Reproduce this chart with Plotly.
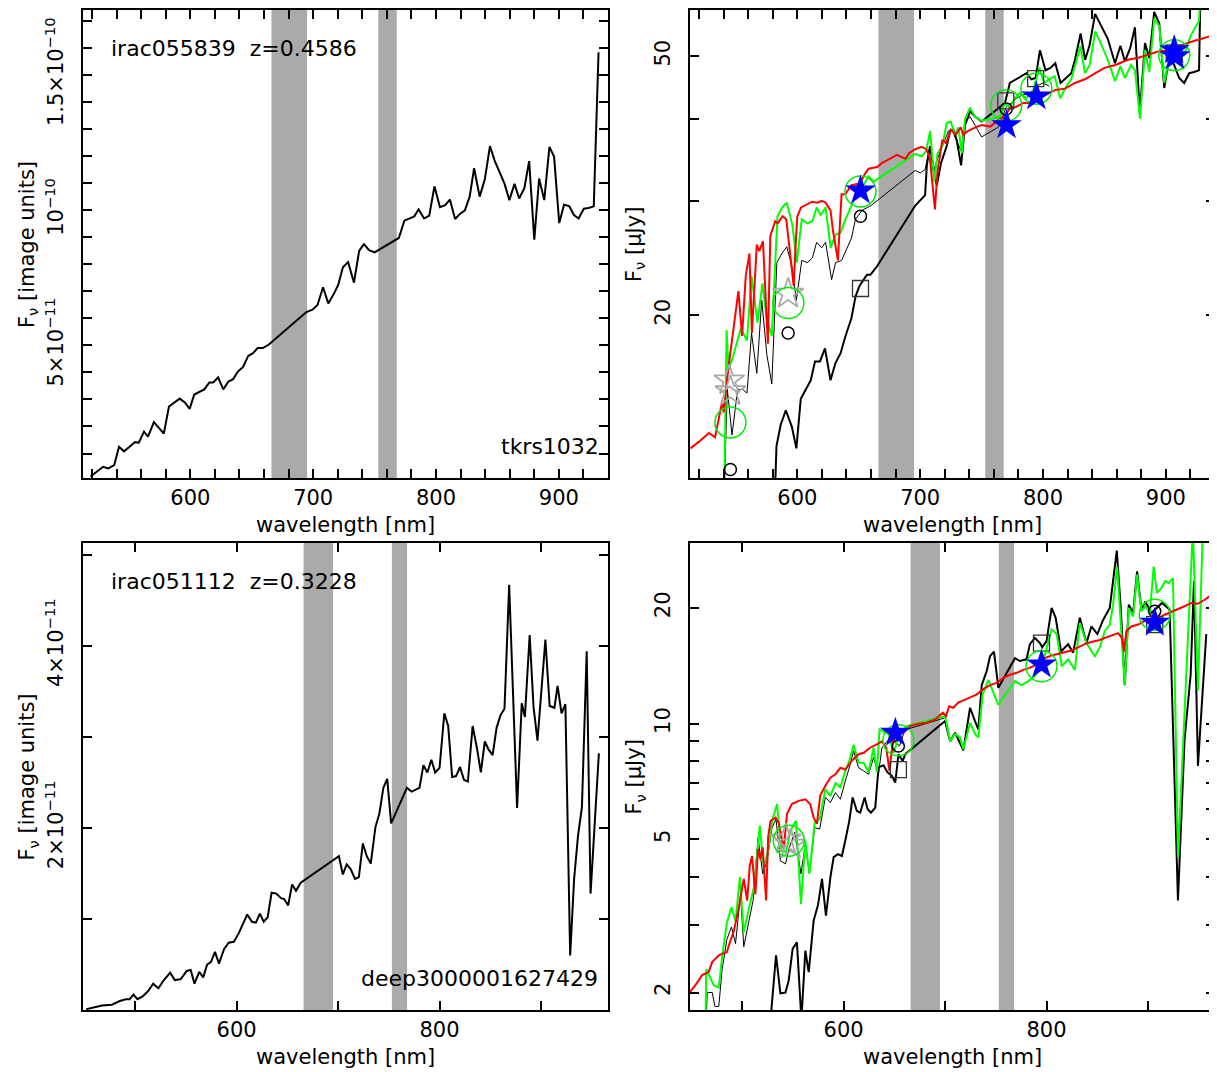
import plotly.graph_objects as go

# ---------------- data ----------------
# top-left: irac055839 spectrum, flux in units of 1e-11 (image units)
tl_wl = [518.7, 523.5, 529, 533.2, 538, 541.9, 546, 551, 554.8, 558,
         562.3, 565.5, 570.3, 574.2, 578.4, 582.6, 586.5, 591.3, 595.5, 599.4,
         603.2, 607.4, 611.3, 615.5, 618.7, 622.6, 626.8, 631, 634.8, 638.7,
         642.9, 647.1, 651, 654.8, 659, 663.9, 694.5, 699.4, 703.5, 708,
         712.3, 717.1, 720.3, 724.2, 728.4, 733.2, 737.4, 741.3, 745.5, 750,
         769.7, 774.2, 778.4, 782.3, 785.8, 790.3, 794.5, 798.7, 803.2, 807.4,
         811.3, 815.5, 819.4, 823.5, 827.4, 831, 835.5, 839.7, 843.9, 847.7,
         851.9, 855.8, 859.7, 863.9, 867.7, 871.9, 875.8, 880, 883.9, 888.1,
         892.3, 896.1, 900.3, 904.2, 908.4, 912.3, 916.1, 920.3, 924.2, 928.4,
         932.3]
tl_flux = [0.15, 0.32, 0.51, 0.45, 0.57, 1.25, 1.08, 1.27, 1.42, 1.4,
           1.81, 1.62, 2.16, 1.96, 1.74, 2.74, 2.86, 3.03, 2.89, 2.65,
           3.18, 3.27, 3.37, 3.63, 3.63, 3.82, 3.37, 3.66, 3.75, 4.03,
           4.2, 4.61, 4.71, 4.9, 4.9, 5.03, 6.23, 6.32, 6.49, 7.15,
           6.55, 6.93, 7.23, 7.89, 8.08, 7.32, 8.49, 8.74, 8.52, 8.44,
           8.97, 9.61, 9.69, 9.77, 10.03, 9.69, 9.8, 10.88, 10.11, 10.18,
           10.39, 9.67, 9.86, 9.99, 10.5, 11.55, 10.5, 11.13, 12.37, 11.83,
           11.39, 10.97, 10.37, 10.97, 10.43, 10.81, 11.81, 8.91, 11.17, 10.37,
           12.34, 11.98, 9.52, 10.2, 10.15, 9.82, 9.69, 10.05, 10.08, 10.14,
           15.84]

# bottom-left: irac051112 spectrum, flux in units of 1e-11
bl_wl = [451.9, 459.7, 467.4, 477.1, 484.9, 490.7, 494.6, 498.4, 502.3, 507.4,
         512.8, 517.8, 522.9, 528.3, 534.5, 539.1, 545, 550.8, 554.7, 558.5,
         563.2, 567.1, 570.9, 574.8, 578.7, 582.6, 587.6, 592.2, 597.3, 601.9,
         605.8, 610.5, 615.1, 619, 622.9, 626.7, 630.6, 634.5, 639.1, 643.8,
         646.9, 650.8, 654.7, 658.5, 663.2, 700.8, 704.7, 708.5, 712.4, 716.7,
         720.5, 724.4, 728.3, 732.2, 736.8, 740.7, 744.6, 748.4, 752.3, 767.8,
         772.5, 776.4, 780.2, 784.1, 788, 791.9, 795.7, 800, 804.7, 808.5,
         812.4, 816.3, 820.2, 824, 827.9, 832.6, 836.8, 840.7, 844.6, 848.4,
         852.3, 856.2, 860.1, 864, 868.6, 876.4, 881, 884.1, 888.8, 892.6,
         896.5, 904.3, 908.5, 913.2, 916.3, 920.2, 924, 928.7, 932.6, 936.4,
         940.3, 945, 948.8, 957]
bl_flux = [0.01, 0.03, 0.05, 0.06, 0.1, 0.12, 0.12, 0.17, 0.12, 0.15,
           0.21, 0.29, 0.24, 0.33, 0.41, 0.33, 0.34, 0.43, 0.44, 0.29,
           0.42, 0.36, 0.5, 0.53, 0.64, 0.51, 0.67, 0.74, 0.75, 0.84,
           0.93, 1.05, 0.97, 0.96, 1.06, 0.97, 1.02, 1.29, 1.28, 1.23,
           1.22, 1.15, 1.38, 1.31, 1.4, 1.69, 1.49, 1.6, 1.55, 1.44,
           1.46, 1.83, 1.69, 1.61, 2.01, 2.16, 2.44, 2.54, 2.05, 2.44,
           2.4, 2.42, 2.44, 2.69, 2.61, 2.75, 2.61, 2.66, 3.26, 3.12,
           2.56, 2.57, 2.67, 2.53, 2.51, 3.12, 2.88, 2.61, 2.95, 2.86,
           2.8, 3.1, 3.24, 3.31, 4.67, 2.22, 3.37, 3.22, 4.12, 3.33,
           2.96, 4.07, 3.34, 3.32, 3.56, 3.26, 3.36, 0.6, 1.44, 1.91,
           2.23, 3.94, 1.28, 2.82]

# top-right (uJy)
tr_k1_wl = [582, 583, 586.5, 590.6, 595.5, 599.2, 602.8, 606.8, 610.9, 614.4,
            618.4, 622.5, 627, 631, 635.2, 639.2, 644, 647.4, 650.6, 654,
            656.7, 659.5, 664.9, 696, 700, 704, 705.4, 708, 710.8, 713.5,
            717, 721.6, 724.4, 727, 729.7, 733.3, 736.5, 740.6, 744.6, 750,
            765, 769, 773, 778.4, 783.2, 786.5, 790.5, 794, 797.5, 800,
            802, 806, 810, 814.3, 819, 823, 826, 830.6, 834.3, 837.9,
            842.4, 847.3, 852.7, 858.6, 863, 866.7, 871, 874.8, 878.8, 883,
            886.5, 890.5, 894.6, 898.7, 902.8, 906.8, 910.8, 914.9, 919, 923,
            927, 928.3]
tr_k1_f = [11.0, 12.6, 13.6, 14.3, 13.5, 12.5, 14.9, 15.4, 15.9, 17.0,
           17.0, 17.8, 15.9, 16.9, 17.5, 18.6, 19.8, 21.4, 22.2, 22.7,
           23.1, 23.1, 23.8, 29.5, 30.0, 30.6, 34.0, 36.4, 33.5, 31.7,
           34.3, 36.4, 38.4, 38.6, 37.2, 34.0, 39.2, 41.2, 40.4, 39.7,
           41.8, 42.4, 45.5, 46.1, 46.6, 47.1, 46.1, 46.3, 51.1, 49.0,
           47.6, 48.0, 48.8, 45.5, 46.3, 47.1, 49.4, 54.2, 49.4, 52.0,
           58.1, 55.6, 53.2, 48.8, 51.9, 49.1, 51.5, 55.4, 40.9, 52.4,
           49.7, 58.5, 56.2, 44.7, 50.0, 48.5, 46.3, 45.5, 47.1, 47.3,
           47.6, 65]
tr_k2_wl = [540.6, 543, 546.8, 551.4, 555.4, 559, 562.7, 567, 571, 575.2,
            579.2, 583.3, 587.4, 591.4, 595.5, 599.2, 603.6, 608.1, 612.2, 615.7,
            619.8, 623, 627.9, 631.1, 636, 639.2, 644.1, 647.3, 652.7, 660,
            696, 700, 704, 708, 711.6, 714, 719, 723, 725.7, 729.7,
            733.3, 736.5, 740.6, 744.6, 750, 763.5, 766, 769.7, 773, 778.4,
            783.2, 786.5, 790.5, 794.6, 800, 805]
tr_k2_f = [11.0, 15.4, 13.1, 15.4, 15.4, 15.2, 18.8, 16.3, 21.1, 17.4,
           15.7, 24.1, 24.9, 25.5, 23.8, 21.1, 24.3, 24.1, 24.5, 25.9,
           25.4, 25.9, 22.7, 24.1, 24.3, 25.1, 26.3, 28.1, 29.0, 29.5,
           33.4, 33.1, 33.5, 36.4, 33.5, 34.8, 36.8, 38.4, 38.6, 37.2,
           35.8, 39.7, 40.4, 39.2, 37.6, 38.9, 39.7, 41.7, 42.2, 43.1,
           43.6, 43.8, 43.1, 45.0, 45.5, 45.0]
tr_g_wl = [540.6, 542.4, 544, 548, 554, 559, 562.7, 567.6, 571.6, 575.2,
           579.2, 583.8, 587.8, 591.4, 596, 599.5, 603.6, 608.1, 612.2, 615.7,
           619, 623, 627.1, 631.1, 635.2, 639.2, 644.1, 647.3, 652.7, 658,
           662, 696, 701.3, 704.9, 708.1, 711.6, 714, 718.1, 721.6, 724.8,
           728.4, 731.1, 733.8, 736.5, 740.6, 744.6, 750, 765, 769, 773,
           777, 781, 786.5, 792, 797, 801, 805, 809.5, 814, 819,
           823, 826, 830.6, 834, 838, 842.4, 847, 852.7, 858.6, 863,
           866.7, 871.6, 874.8, 879, 883, 886.5, 890.6, 894.7, 898.7, 902.8,
           906.8, 910.8, 914.9, 920.2, 927, 928.3]
tr_g_f = [11.0, 19.0, 16.5, 17.4, 19.1, 18.3, 23.0, 19.5, 22.4, 19.7,
          18.6, 28.4, 29.3, 29.8, 27.5, 24.1, 28.1, 27.7, 27.9, 29.3,
          28.5, 29.3, 25.4, 26.6, 26.8, 28.1, 29.5, 30.6, 31.4, 32.7,
          32.1, 35.4, 35.1, 35.8, 38.4, 32.1, 35.4, 36.5, 39.5, 39.7,
          37.9, 38.9, 35.5, 40.1, 41.7, 40.4, 39.8, 40.4, 42.4, 41.7,
          43.1, 43.9, 43.1, 44.4, 48.0, 45.5, 46.1, 46.6, 43.1, 45.0,
          46.1, 48.3, 51.9, 47.1, 48.5, 54.6, 52.4, 49.4, 45.8, 48.3,
          46.3, 48.5, 47.6, 40.1, 51.1, 47.3, 57.2, 55.6, 45.5, 50.0,
          50.6, 50.6, 50.2, 53.8, 56.7, 65]
tr_r_wl = [513, 520, 528, 533, 539, 540, 544, 552, 555, 558,
           561, 563, 567, 569, 572, 576, 578, 582, 584, 588,
           591, 593, 597, 599, 600, 603, 612, 616, 620, 623,
           627, 629, 633, 636, 639, 644, 651, 655, 658, 665,
           669, 673, 677, 681, 688, 691, 696, 701, 705, 708,
           712, 714, 718, 721, 725, 729, 733, 735, 739, 745,
           750, 757, 765, 769, 773, 778, 784, 789, 794, 800,
           810, 818, 826, 834, 841, 850, 859, 869, 877, 885,
           893, 903, 912, 920, 928, 939]
tr_r_f = [12.5, 12.8, 13.2, 13.0, 14.8, 14.2, 16.7, 21.8, 18.6, 23.0,
          24.9, 18.8, 25.7, 25.1, 26.0, 18.1, 26.5, 27.9, 27.7, 28.4,
          28.1, 25.8, 22.2, 26.5, 28.4, 29.3, 29.9, 29.8, 30.0, 29.8,
          29.0, 27.0, 24.3, 30.7, 30.7, 31.7, 31.9, 33.0, 33.6, 33.8,
          34.3, 34.6, 35.0, 35.3, 34.8, 35.5, 36.0, 36.3, 36.0, 34.8,
          29.1, 33.1, 37.2, 36.8, 38.6, 37.9, 38.9, 37.9, 38.4, 38.9,
          39.2, 39.0, 40.1, 40.4, 41.7, 41.8, 42.4, 42.4, 42.8, 43.4,
          44.4, 44.6, 45.5, 46.1, 46.9, 48.0, 48.5, 49.4, 49.7, 50.2,
          50.8, 51.1, 51.9, 52.6, 53.1, 53.9]
tr_circ_wl = [545.5, 592.5, 651.4, 770]
tr_circ_f = [11.6, 18.8, 28.4, 41.5]
tr_sq_wl = [651.4, 769.7, 794, 906.8]
tr_sq_f = [22.0, 42.7, 46.2, 50.6]
tr_gc_wl = [545.5, 592.7, 651.4, 770, 794.6, 906.8]
tr_gc_f = [13.7, 20.9, 31.0, 42.0, 44.6, 50.2]
tr_gs_wl = [544.6, 545.5, 592.5]
tr_gs_f = [15.9, 15.3, 21.6]
tr_bs_wl = [651.4, 770.3, 794.6, 906.8, 907.5]
tr_bs_f = [31.1, 39.2, 43.4, 51.1, 50.0]

# bottom-right (uJy)
br_k1_wl = [528, 533.4, 537.7, 542.7, 545.9, 549.8, 554, 558.4, 562.3, 565.6,
            570.5, 574.7, 578.7, 582.6, 587, 590.2, 594.4, 598.3, 602.3, 605.6,
            608.9, 613.1, 616.4, 620.7, 623.6, 626.9, 631.2, 634.4, 639.3, 643.3,
            647.5, 650.9, 654.1, 658.3, 660.7, 700, 705, 709.9, 718, 724.6,
            729.5, 732.8, 736.1, 741, 744.3, 748.2, 752.5, 768.9, 773.8, 780.3,
            783.6, 788.5, 793.5, 795.7, 800, 805, 809, 814.3, 821.3, 826.2,
            832.8, 839.3, 844.2, 850.1, 855.7, 862.3, 869.2, 873.1, 877.1, 881,
            885.3, 889.2, 893.5, 897.4, 903.2, 913.8, 921.3, 929.5, 936, 942,
            945.3, 949.2, 957.4]
br_k1_f = [1.7, 2.5, 1.99, 2.0, 2.15, 2.6, 2.7, 1.7, 2.57, 2.26,
           3.08, 3.37, 3.95, 3.17, 3.99, 4.5, 4.58, 4.53, 5.06, 5.59,
           6.43, 5.93, 5.87, 6.43, 6.0, 5.87, 6.05, 7.7, 7.8, 7.47,
           7.33, 7.03, 8.33, 8.0, 8.33, 10.16, 9.0, 9.47, 8.53, 11.0,
           10.16, 9.67, 12.6, 13.7, 14.98, 15.4, 12.4, 14.8, 14.55, 14.7,
           16.1, 16.7, 16.2, 15.8, 16.4, 20.0, 18.85, 15.4, 16.1, 15.3,
           18.85, 16.2, 17.9, 17.1, 18.6, 20.0, 28.2, 20.0, 12.6, 20.4,
           19.4, 24.9, 19.8, 20.8, 19.4, 20.6, 19.8, 3.47, 9.1, 13.4,
           23.5, 7.77, 17.1]
br_k2_wl = [464.6, 465.6, 470.5, 473.2, 477, 480.3, 485, 489.5, 493.5, 498.4,
            501.6, 506.6, 510.8, 515.7, 520.3, 524.6, 529.5, 533.4, 537.7, 542.7,
            546.6, 551.8, 558, 562.3, 566.3, 571.5, 576.4, 582, 587, 592,
            596.8, 601.7, 606.6, 609.8, 614.8, 619.7, 624.6, 629.5, 634.4, 637.7,
            645.9, 650.9, 655.1, 659, 662.3, 700]
br_k2_f = [1.7, 2.0, 2.0, 1.84, 1.84, 2.3, 2.75, 2.96, 2.68, 3.6,
           2.63, 3.08, 3.47, 5.06, 4.07, 4.4, 5.37, 5.65, 4.4, 4.32,
           4.77, 5.22, 4.07, 4.86, 4.07, 5.37, 5.32, 6.43, 6.24, 6.62,
           6.36, 7.1, 7.84, 8.5, 7.68, 7.54, 7.39, 8.16, 7.39, 8.66,
           9.2, 8.93, 8.75, 9.4, 9.67, 10.36]
br_g_wl = [464, 464.6, 472, 477, 480.3, 485, 489.5, 493.5, 497.8, 501.6,
           506.6, 511.5, 517.4, 521.3, 525.6, 529.5, 534.4, 538.7, 543.2, 547.6,
           553, 558, 562.3, 566.3, 571.5, 576.4, 582, 587, 592, 596.8,
           601.7, 605.6, 609.8, 614.8, 619.7, 624.6, 629.5, 632.8, 635.4, 644.3,
           649.2, 655.8, 662.3, 700, 705, 709.9, 714.8, 718, 724.6, 729.5,
           732.8, 737, 742.6, 752.5, 768.9, 775.4, 782, 788.5, 796.7, 798.4,
           805, 810, 815, 821.3, 827.9, 832.8, 839.3, 847.6, 852.5, 857.4,
           862.3, 865.6, 869.5, 873.1, 877.1, 881, 885.3, 889.2, 893.5, 897.4,
           901.8, 905.6, 908.8, 913.1, 917, 920.3, 924.6, 929.5, 944.2, 949.2,
           954]
br_g_f = [1.7, 2.3, 2.09, 2.06, 2.48, 3.04, 3.33, 3.07, 3.99, 2.87,
          3.3, 3.75, 5.43, 4.23, 4.67, 5.59, 6.18, 4.67, 4.63, 5.27,
          5.59, 3.4, 4.96, 4.07, 5.53, 5.65, 6.75, 6.49, 7.0, 6.83,
          7.54, 8.0, 8.8, 7.92, 7.92, 7.47, 8.66, 7.47, 9.67, 9.4,
          8.4, 9.47, 9.86, 10.47, 9.0, 9.4, 9.2, 8.58, 10.06, 9.4,
          9.2, 11.9, 13.0, 11.2, 12.9, 12.6, 12.9, 13.3, 14.4, 15.1,
          17.6, 17.1, 14.1, 14.7, 13.8, 18.3, 16.2, 14.98, 15.8, 17.4,
          18.1, 20.4, 25.6, 18.3, 12.6, 20.0, 19.0, 24.4, 19.6, 20.2,
          19.4, 25.6, 21.9, 22.5, 23.5, 23.2, 23.9, 4.5, 32, 12.2,
          32]
br_r_wl = [448, 454, 460.6, 467, 470.5, 477, 480.3, 485, 486.9, 492,
           496.7, 501.6, 505, 507.5, 509.8, 513, 515.7, 518, 520.3, 523.6,
           525.6, 528, 533, 536, 541, 544.2, 549, 555.7, 562.3, 567,
           570.5, 573.7, 577, 582, 587, 592, 596.8, 601.7, 608, 614.8,
           620, 626, 632.8, 637.7, 642, 645.2, 648.5, 652.4, 659, 665.6,
           673.8, 682, 690.2, 697.7, 701, 704, 708, 713, 718, 724.6,
           731, 737.7, 744.3, 750.8, 757.4, 764, 770.5, 777, 783.6, 790,
           798.4, 805, 811.5, 818, 824.5, 831, 837.7, 844, 850.8, 857.4,
           864, 870.5, 874.4, 876.4, 878.6, 883.6, 890.2, 896.7, 903.2, 909.8,
           916.4, 923, 929.5, 936, 942.6, 949, 955.8, 966]
br_r_f = [2.0, 2.09, 2.22, 2.26, 2.40, 2.5, 2.52, 2.55, 2.65, 2.9,
          3.33, 3.95, 3.47, 4.26, 4.53, 3.6, 4.72, 4.45, 4.77, 3.47,
          5.06, 5.59, 5.7, 5.53, 4.72, 5.82, 6.18, 6.3, 6.36, 6.18,
          5.7, 5.49, 6.5, 6.9, 7.24, 7.39, 7.68, 7.6, 8.0, 8.33,
          8.4, 8.66, 8.84, 9.0, 8.66, 7.54, 9.0, 9.3, 9.47, 9.86,
          10.0, 10.06, 10.26, 10.68, 10.47, 11.1, 11.0, 11.35, 11.5, 11.68,
          11.9, 12.3, 12.6, 12.77, 13.16, 13.4, 13.56, 13.8, 13.97, 14.25,
          14.8, 15.05, 15.2, 15.4, 15.5, 15.8, 16.1, 16.3, 16.45, 16.7,
          16.95, 17.2, 16.7, 15.4, 17.4, 17.9, 18.1, 18.5, 18.6, 18.8,
          19.2, 19.5, 19.8, 20.2, 20.6, 20.5, 21.0, 21.9]
br_circ_wl = [654, 906.6]
br_circ_f = [8.75, 19.6]
br_sq_wl = [654, 795, 906.6]
br_sq_f = [7.6, 16.2, 18.1]
br_gc_wl = [546, 654, 795, 906.6]
br_gc_f = [4.96, 9.05, 14.1, 19.2]
br_gs_wl = [543, 548]
br_gs_f = [5.0, 4.85]
br_bs_wl = [651, 795, 906.6]
br_bs_f = [9.47, 14.25, 18.3]

# shaded telluric bands (nm)
bands = [(666, 695), (753, 768)]

# ticks
top_xticks = [520, 540, 560, 580, 600, 620, 640, 660, 680, 700, 720, 740, 760,
              780, 800, 820, 840, 860, 880, 900, 920, 940]
top_xlabels = {600: "600", 700: "700", 800: "800", 900: "900"}
bot_xticks = [500, 600, 700, 800, 900]
bot_xlabels = {600: "600", 800: "800"}
tl_yticks = list(range(1, 18))
tl_ylabels = {5: "5×10<sup>−11</sup>", 10: "10<sup>−10</sup>", 15: "1.5×10<sup>−10</sup>"}
bl_yticks = [1, 2, 3, 4, 5]
bl_ylabels = {2: "2×10<sup>−11</sup>", 4: "4×10<sup>−11</sup>"}
tr_yticks = [20, 30, 40, 50]
tr_ylabels = {20: "20", 50: "50"}
br_yticks = [2, 3, 4, 5, 6, 7, 8, 9, 10, 20]
br_ylabels = {2: "2", 5: "5", 10: "10", 20: "20"}

# ---------------- figure ----------------
# the page body keeps the browser's default 8px margin, so the figure is sized
# to the remaining area and all pixel positions are given in window coordinates
OFF = 8
W, H = 1217 - OFF, 1072 - OFF
FONT = "DejaVu Sans"
fig = go.Figure()

def px_x(p):
    return (p - OFF) / W

def px_y(p):
    return 1 - (p - OFF) / H

panels = {
    "tl": dict(xa="x", ya="y", box=(83, 609, 8, 477)),
    "tr": dict(xa="x2", ya="y2", box=(691, 1217, 8, 477)),
    "bl": dict(xa="x3", ya="y3", box=(83, 609, 542, 1010)),
    "br": dict(xa="x4", ya="y4", box=(691, 1217, 542, 1010)),
}

def line(xs, ys, p, color, width):
    fig.add_trace(go.Scatter(x=xs, y=ys, mode="lines", xaxis=panels[p]["xa"],
                             yaxis=panels[p]["ya"], line=dict(color=color, width=width),
                             showlegend=False, hoverinfo="skip"))

def marks(xs, ys, p, symbol, color, size, lw=1.5):
    fig.add_trace(go.Scatter(x=xs, y=ys, mode="markers", xaxis=panels[p]["xa"],
                             yaxis=panels[p]["ya"], cliponaxis=False,
                             marker=dict(symbol=symbol, size=size, color=color,
                                         line=dict(color=color, width=lw)),
                             showlegend=False, hoverinfo="skip"))

line(tl_wl, tl_flux, "tl", "black", 2)
line(bl_wl, bl_flux, "bl", "black", 2)

for p, k1, k2, g, r, circ, sq, gs, gc, bs in [
    ("tr", (tr_k1_wl, tr_k1_f), (tr_k2_wl, tr_k2_f), (tr_g_wl, tr_g_f), (tr_r_wl, tr_r_f),
     (tr_circ_wl, tr_circ_f), (tr_sq_wl, tr_sq_f), (tr_gs_wl, tr_gs_f), (tr_gc_wl, tr_gc_f),
     (tr_bs_wl, tr_bs_f)),
    ("br", (br_k1_wl, br_k1_f), (br_k2_wl, br_k2_f), (br_g_wl, br_g_f), (br_r_wl, br_r_f),
     (br_circ_wl, br_circ_f), (br_sq_wl, br_sq_f), (br_gs_wl, br_gs_f), (br_gc_wl, br_gc_f),
     (br_bs_wl, br_bs_f)),
]:
    line(*k1, p, "black", 2)
    line(*k2, p, "black", 1)
    line(*g, p, "#00ff00", 2)
    line(*r, p, "#ff0000", 2)
    marks(*circ, p, "circle-open", "black", 12)
    marks(*sq, p, "square-open", "#333333", 16, 1.3)
    marks(*gs, p, "star-open", "#a8a8a8", 23, 1.8)
    marks(*gc, p, "circle-open", "#00ee00", 31, 1.5)
    marks(*bs, p, "star", "#0000ff", 23, 0)

# bands
for p in panels:
    for b0, b1 in bands:
        fig.add_shape(type="rect", xref=panels[p]["xa"], yref=panels[p]["ya"] + " domain",
                      x0=b0, x1=b1, y0=0, y1=1, fillcolor="#aaaaaa",
                      line=dict(width=0), layer="below")

def axis_common():
    return dict(showline=True, linecolor="black", linewidth=2, mirror="allticks",
                ticks="inside", ticklen=9, tickwidth=1.6, tickcolor="black",
                showgrid=False, zeroline=False,
                tickfont=dict(family=FONT, size=21, color="black"))

def tick_text(vals, labels):
    return [labels.get(v, "") for v in vals]

layout_axes = {}
for name, p, ticks, labels, rng in [
    ("xaxis", "tl", top_xticks, top_xlabels, [512.5, 940]),
    ("xaxis2", "tr", top_xticks, top_xlabels, [512.5, 940]),
    ("xaxis3", "bl", bot_xticks, bot_xlabels, [448.5, 966]),
    ("xaxis4", "br", bot_xticks, bot_xlabels, [448.5, 966]),
]:
    x0, x1, y0, y1 = panels[p]["box"]
    ax = axis_common()
    ax.update(domain=[px_x(x0), px_x(x1)], anchor=panels[p]["ya"], range=rng,
              tickmode="array", tickvals=ticks, ticktext=tick_text(ticks, labels),
              ticklabelstandoff=0)
    layout_axes[name] = ax

for name, p, ticks, labels, rng, typ in [
    ("yaxis", "tl", tl_yticks, tl_ylabels, [0.09, 17.4], "linear"),
    ("yaxis2", "tr", tr_yticks, tr_ylabels, [1.0512, 1.7701], "log"),
    ("yaxis3", "bl", bl_yticks, bl_ylabels, [0.0, 5.13], "linear"),
    ("yaxis4", "br", br_yticks, br_ylabels, [0.2553, 1.4698], "log"),
]:
    x0, x1, y0, y1 = panels[p]["box"]
    ax = axis_common()
    ax.update(domain=[px_y(y1), px_y(y0)], anchor=panels[p]["xa"], range=rng, type=typ,
              tickmode="array", tickvals=ticks, ticktext=tick_text(ticks, labels),
              tickangle=-90, ticklabelstandoff=9)
    layout_axes[name] = ax

fig.update_layout(**layout_axes)

annos = []
# axis titles
for p in panels:
    x0, x1, y0, y1 = panels[p]["box"]
    annos.append(dict(text="wavelength [nm]", x=px_x((x0 + x1) / 2), y=px_y(y1 + 47),
                      xref="paper", yref="paper", showarrow=False,
                      xanchor="center", yanchor="middle",
                      font=dict(family=FONT, size=21, color="black")))
    ytitle = "F<sub>ν</sub> [image units]" if p in ("tl", "bl") else "F<sub>ν</sub> [μJy]"
    annos.append(dict(text=ytitle, x=px_x(x0 - 55), y=px_y((y0 + y1) / 2),
                      xref="paper", yref="paper", showarrow=False, textangle=-90,
                      xanchor="center", yanchor="middle",
                      font=dict(family=FONT, size=21, color="black")))

labels_txt = [
    ("irac055839 \u00a0z=0.4586", 109, 47, "left"),
    ("tkrs1032", 602, 445, "right"),
    ("irac051112 \u00a0z=0.3228", 109, 581, "left"),
    ("deep3000001627429", 601, 978, "right"),
]
for t, x, y, anc in labels_txt:
    annos.append(dict(text=t, x=px_x(x), y=px_y(y), xref="paper", yref="paper",
                      showarrow=False, xanchor=anc, yanchor="middle",
                      font=dict(family=FONT, size=22, color="black")))

fig.update_layout(annotations=annos, width=W, height=H,
                  margin=dict(l=0, r=0, t=0, b=0),
                  paper_bgcolor="white", plot_bgcolor="white")

fig.write_html("out.html")
